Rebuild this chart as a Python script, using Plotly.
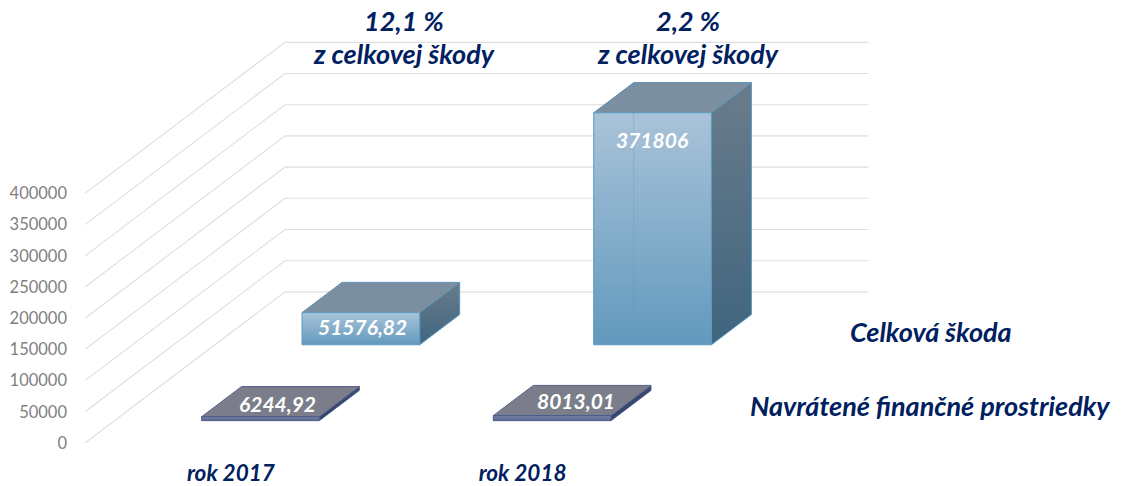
import plotly.graph_objects as go

categories = ["rok 2017", "rok 2018"]
series_names = ["Navrátené finančné prostriedky", "Celková škoda"]
returned_values = [6244.92, 8013.01]
total_damage = [51576.82, 371806]
returned_labels = ["6244,92", "8013,01"]
damage_labels = ["51576,82", "371806"]
y_ticks = [0, 50000, 100000, 150000, 200000, 250000, 300000, 350000, 400000]
share_top = ["12,1 %", "2,2 %"]
share_bottom = ["z celkovej škody", "z celkovej škody"]

W, H = 1123, 486
LEFT, ZERO = 85.0, 442.7          # pixel position of the chart's front-left origin
CAT_PX = 291.7                    # pixels per category
VAL_PX = 249.4 / 400000           # pixels per unit of value
DEPTH_X = 200.0 / CAT_PX          # oblique shift of full depth, in category units
DEPTH_V = 151.0 / VAL_PX          # oblique shift of full depth, in value units
BAR_W = 0.4035
ROW_DEPTH = [(0.148, 0.348), (0.65, 0.85)]


def proj(c, d, v):
    return c + d * DEPTH_X, v + d * DEPTH_V


def data_x(px):
    return (px - LEFT) / CAT_PX


def data_y(py):
    return (ZERO - py) / VAL_PX


def poly(points):
    xs, ys = zip(*[proj(*p) for p in points])
    return list(xs) + [xs[0]], list(ys) + [ys[0]]


fig = go.Figure()


def face(points, line, color=None, grad=None, width=1):
    x, y = poly(points)
    t = dict(x=x, y=y, mode="lines", fill="toself", line=dict(color=line, width=width),
             hoverinfo="skip", showlegend=False)
    if grad:
        t["fillgradient"] = dict(type="vertical", colorscale=[[0, grad[0]], [1, grad[1]]])
    else:
        t["fillcolor"] = color
    fig.add_trace(go.Scatter(**t))


# walls
for v in y_ticks:
    x, y = zip(proj(0, 0, v), proj(0, 1, v), proj(2, 1, v))
    fig.add_trace(go.Scatter(x=x, y=y, mode="lines", line=dict(color="#dedede", width=1.1),
                             hoverinfo="skip", showlegend=False))


def bar(c_i, v, row, top, side, front, edge, top_edge, inner=None):
    c0 = c_i + (1 - BAR_W) / 2
    c1 = c0 + BAR_W
    d0, d1 = ROW_DEPTH[row]
    face([(c1, d0, 0), (c1, d1, 0), (c1, d1, v), (c1, d0, v)], edge, grad=side)
    face([(c0, d0, v), (c1, d0, v), (c1, d1, v), (c0, d1, v)], top_edge, color=top)
    face([(c0, d0, 0), (c1, d0, 0), (c1, d0, v), (c0, d0, v)], edge, grad=front)
    if inner:
        x, y = zip(proj(c0, d1, 0), proj(c0, d1, v))
        fig.add_trace(go.Scatter(x=x, y=y, mode="lines", line=dict(color=inner, width=1),
                                 hoverinfo="skip", showlegend=False))


for i, v in enumerate(total_damage):
    bar(i, v, 1, "#7b8fa1", ("#3f657f", "#6a7c8b"), ("#6299bd", "#a9c3d9"), "#5b9bc0", "#5b93b5",
        inner="rgba(90,140,180,0.28)" if v > 100000 else None)
for i, v in enumerate(returned_values):
    bar(i, v, 0, "#7b7e8a", ("#33426b", "#3a4a75"), ("#5a6890", "#78829f"), "#4a5b8a", "#56628a")

NAVY = "#002060"
annotations = []


def label(text, px, py, size, color=NAVY):
    annotations.append(dict(x=data_x(px), y=data_y(py), xref="x", yref="y", text=text,
                            showarrow=False, xanchor="center", yanchor="middle",
                            font=dict(family="Lato", size=size, color=color,
                                      style="italic", weight=700)))


for t, b, px in zip(share_top, share_bottom, [404, 688]):
    label(t, px, 20, 27)
    label(b, px, 53, 27)
label(series_names[1], 931, 331, 27)
label(series_names[0], 930, 405, 27)
for t, px, py in zip(damage_labels + returned_labels,
                     [362, 652, 277, 576], [326, 139, 403, 400]):
    label(t, px, py, 21, "#ffffff")

fig.update_layout(
    width=W, height=H, margin=dict(l=LEFT, r=0, t=0, b=H - ZERO, autoexpand=False),
    paper_bgcolor="white", plot_bgcolor="white", showlegend=False,
    annotations=annotations,
    xaxis=dict(range=[0, (W - LEFT) / CAT_PX], tickmode="array", tickvals=[0.5, 1.5],
               ticktext=categories, showgrid=False, zeroline=False, showline=False, ticks="",
               ticklabelstandoff=14,
               tickfont=dict(family="Lato", size=22.5, color=NAVY, style="italic", weight=700)),
    yaxis=dict(range=[0, ZERO / VAL_PX], tickmode="array", tickvals=y_ticks,
               ticktext=[str(v) for v in y_ticks], showgrid=False, zeroline=False,
               showline=False, ticks="", ticklabelstandoff=17,
               tickfont=dict(family="Lato", size=16.5, color="#7f7f7f")),
)

fig.write_html("out.html", config={"displayModeBar": False},
               post_script="document.body.style.margin='0';")
